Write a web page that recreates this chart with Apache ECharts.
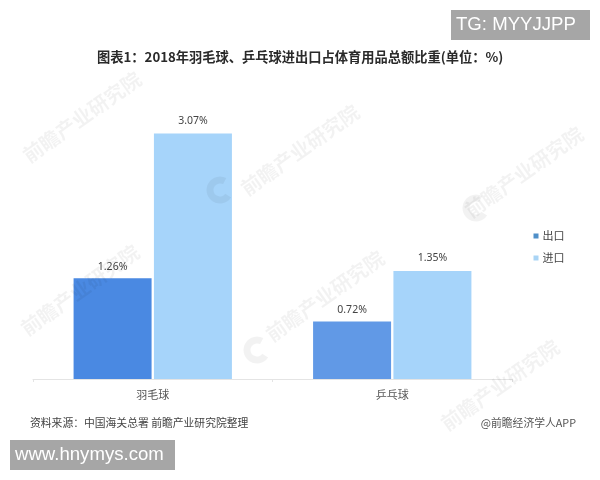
<!DOCTYPE html>
<html>
<head>
<meta charset="utf-8">
<style>
    html, body { margin: 0; padding: 0; background: #fff; }
    #main { width: 600px; height: 480px; }
</style>
<script src="https://cdn.jsdelivr.net/npm/echarts@6/dist/echarts.min.js"></script>
</head>
<body>
<div id="main"></div>
<script>
const categories = ['羽毛球', '乒乓球'];
const exportValues = [1.26, 0.72];
const importValues = [3.07, 1.35];
const exportColors = ['#4a89e2', '#6199e6'];
const titleText = '图表1：2018年羽毛球、乒乓球进出口占体育用品总额比重(单位：%)';
const sourceText = '资料来源：中国海关总署 前瞻产业研究院整理';
const brandText = '@前瞻经济学人APP';
const watermarkText = '前瞻产业研究院';
const cjkFont = '"Noto Sans CJK SC", "Noto Sans", sans-serif';

let myChart = echarts.init(document.getElementById('main'));

function watermark(x, y) {
    return {
        type: 'text',
        x: x,
        y: y,
        rotation: 0.62,
        z: 5,
        style: {
            text: watermarkText,
            fill: 'rgba(0,0,0,0.05)',
            font: 'bold 20px ' + cjkFont,
            align: 'center',
            verticalAlign: 'middle'
        }
    };
}

// round logo next to the watermark text
function logo(x, y) {
    return {
        type: 'arc',
        z: 5,
        shape: { cx: x, cy: y, r: 10, startAngle: 0.6, endAngle: 5.2 },
        style: { stroke: 'rgba(0,0,0,0.05)', fill: null, lineWidth: 7 }
    };
}

function greyBox(x, y, w, h, text) {
    return [
        { type: 'rect', z: 6, shape: { x: x, y: y, width: w, height: h }, style: { fill: '#a6a6a6' } },
        {
            type: 'text',
            z: 7,
            x: x + 5,
            y: y + h / 2,
            style: {
                text: text,
                fill: '#fff',
                font: '18.6px "Liberation Sans", Arial, sans-serif',
                verticalAlign: 'middle'
            }
        }
    ];
}

const valueLabel = {
    show: true,
    position: 'top',
    fontSize: 10.5,
    color: '#444',
    fontFamily: '"Noto Sans", sans-serif',
    formatter: p => p.value.toFixed(2) + '%'
};

let option = {
    animation: false,
    backgroundColor: '#fff',
    textStyle: { fontFamily: cjkFont },
    title: {
        text: titleText,
        left: 92,
        top: 45,
        textStyle: { fontSize: 13.25, fontWeight: 'bold', color: '#2a2a2a', fontFamily: cjkFont }
    },
    legend: {
        orient: 'vertical',
        left: 533.5,
        top: 230.5,
        padding: 0,
        itemWidth: 5,
        itemHeight: 5,
        itemGap: 11,
        icon: 'rect',
        itemStyle: { borderWidth: 0 },
        textStyle: { fontSize: 11, color: '#444', padding: [0, 0, 0, -1] },
        data: [
            { name: '出口', itemStyle: { color: '#4f8fc8' } },
            { name: '进口', itemStyle: { color: '#a9d4f5' } }
        ]
    },
    grid: { left: 33, top: 99, width: 479, height: 280 },
    xAxis: {
        type: 'category',
        data: categories,
        axisLine: { lineStyle: { color: '#e4e4e4', width: 1 } },
        axisTick: { show: true, length: 3, lineStyle: { color: '#e4e4e4' } },
        axisLabel: { fontSize: 11, color: '#555', margin: 10 }
    },
    yAxis: {
        type: 'value',
        min: 0,
        max: 3.5,
        show: false
    },
    series: [
        {
            name: '出口',
            type: 'bar',
            barWidth: 78,
            barGap: '3%',
            itemStyle: { color: '#4a89e2' },
            data: exportValues.map((v, i) => ({ value: v, itemStyle: { color: exportColors[i] } })),
            label: { ...valueLabel, distance: 6 }
        },
        {
            name: '进口',
            type: 'bar',
            barWidth: 78,
            itemStyle: { color: '#a6d4fa' },
            data: importValues,
            label: { ...valueLabel, distance: 7 }
        }
    ],
    graphic: [
        watermark(82, 117),
        watermark(300, 150),
        watermark(524, 172),
        watermark(80, 290),
        watermark(325, 296),
        watermark(500, 385),
        logo(220, 190),
        logo(257, 350),
        logo(476, 208),
        ...greyBox(451, 10, 139, 30, 'TG: MYYJJPP'),
        ...greyBox(10, 440, 165, 30, 'www.hnymys.com'),
        {
            type: 'text',
            x: 30,
            y: 423,
            style: { text: sourceText, fill: '#444', font: '10.8px ' + cjkFont, verticalAlign: 'middle' }
        },
        {
            type: 'text',
            x: 576,
            y: 423,
            style: { text: brandText, fill: '#555', font: '10.8px ' + cjkFont, align: 'right', verticalAlign: 'middle' }
        }
    ]
};

myChart.setOption(option);
</script>
</body>
</html>
